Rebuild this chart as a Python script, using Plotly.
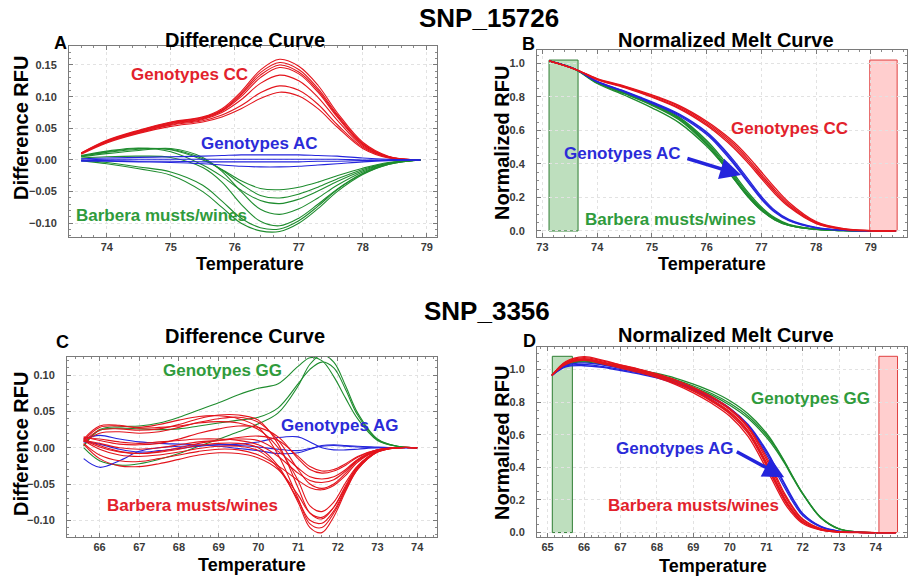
import plotly.graph_objects as go

# ---------------- DATA ----------------
# Panel A: SNP_15726 difference curves
A_temp = [73.6, 74.0, 74.5, 75.0, 75.5, 75.8, 76.1, 76.4, 76.7, 77.0, 77.3, 77.6, 78.0, 78.4, 78.9]
A_cc = [
    [0.011, 0.031, 0.047, 0.060, 0.068, 0.081, 0.108, 0.142, 0.159, 0.148, 0.118, 0.075, 0.028, 0.006, 0.0],
    [0.011, 0.030, 0.046, 0.059, 0.067, 0.079, 0.105, 0.138, 0.154, 0.143, 0.113, 0.072, 0.026, 0.005, 0.0],
    [0.010, 0.030, 0.046, 0.058, 0.066, 0.078, 0.103, 0.134, 0.150, 0.139, 0.110, 0.070, 0.025, 0.005, 0.0],
    [0.010, 0.029, 0.045, 0.057, 0.065, 0.077, 0.100, 0.130, 0.146, 0.136, 0.107, 0.068, 0.024, 0.005, 0.0],
    [0.010, 0.029, 0.044, 0.056, 0.064, 0.075, 0.095, 0.121, 0.134, 0.125, 0.099, 0.063, 0.022, 0.004, 0.0],
    [0.010, 0.028, 0.043, 0.055, 0.062, 0.071, 0.086, 0.106, 0.117, 0.110, 0.088, 0.056, 0.020, 0.004, 0.0],
    [0.009, 0.027, 0.042, 0.053, 0.060, 0.068, 0.081, 0.097, 0.107, 0.101, 0.081, 0.052, 0.018, 0.003, 0.0],
]
A_ac = [
    [0.002, 0.003, 0.004, 0.005, 0.006, 0.007, 0.008, 0.008, 0.008, 0.008, 0.007, 0.006, 0.003, 0.001, 0.0],
    [-0.002, -0.002, -0.003, -0.004, -0.006, -0.008, -0.010, -0.011, -0.011, -0.010, -0.008, -0.006, -0.003, -0.001, 0.0],
    [0.000, 0.001, 0.001, 0.001, 0.001, 0.001, 0.001, 0.001, 0.001, 0.001, 0.001, 0.001, 0.000, 0.0, 0.0],
    [-0.001, -0.001, -0.002, -0.002, -0.003, -0.003, -0.003, -0.003, -0.003, -0.003, -0.002, -0.002, -0.001, 0.0, 0.0],
]
A_barbera = [
    [0.006, 0.013, 0.018, 0.016, 0.000, -0.015, -0.033, -0.045, -0.047, -0.043, -0.035, -0.025, -0.013, -0.004, 0.0],
    [0.006, 0.012, 0.017, 0.017, 0.002, -0.016, -0.038, -0.056, -0.060, -0.054, -0.043, -0.030, -0.015, -0.005, 0.0],
    [0.007, 0.014, 0.019, 0.013, -0.008, -0.026, -0.048, -0.064, -0.069, -0.062, -0.049, -0.034, -0.017, -0.005, 0.0],
    [0.005, 0.010, 0.015, 0.018, 0.004, -0.018, -0.050, -0.078, -0.086, -0.077, -0.060, -0.040, -0.019, -0.006, 0.0],
    [0.003, 0.005, 0.006, 0.004, -0.012, -0.035, -0.070, -0.097, -0.104, -0.092, -0.070, -0.046, -0.021, -0.006, 0.0],
    [0.000, -0.004, -0.011, -0.019, -0.040, -0.065, -0.092, -0.107, -0.109, -0.096, -0.073, -0.047, -0.022, -0.007, 0.0],
    [-0.001, -0.006, -0.014, -0.024, -0.050, -0.075, -0.100, -0.112, -0.113, -0.100, -0.077, -0.050, -0.023, -0.007, 0.0],
]

# Panel B: SNP_15726 normalized melt curves
B_temp = [73.12, 73.6, 74.0, 74.5, 75.0, 75.5, 76.0, 76.25, 76.5, 76.75, 77.0, 77.25, 77.5, 78.0, 78.5, 79.0, 79.45]
B_cc = [
    [1.015, 0.965, 0.910, 0.865, 0.812, 0.748, 0.655, 0.597, 0.530, 0.447, 0.352, 0.257, 0.172, 0.056, 0.014, 0.002, 0.0],
    [1.015, 0.965, 0.907, 0.862, 0.807, 0.742, 0.647, 0.587, 0.517, 0.432, 0.337, 0.243, 0.161, 0.051, 0.012, 0.002, 0.0],
    [1.015, 0.965, 0.905, 0.858, 0.802, 0.735, 0.638, 0.577, 0.505, 0.420, 0.325, 0.232, 0.152, 0.047, 0.011, 0.001, 0.0],
    [1.015, 0.965, 0.903, 0.855, 0.798, 0.729, 0.630, 0.567, 0.494, 0.408, 0.313, 0.221, 0.144, 0.044, 0.010, 0.001, 0.0],
]
B_ac = [
    [1.015, 0.965, 0.893, 0.835, 0.770, 0.697, 0.590, 0.512, 0.418, 0.312, 0.206, 0.122, 0.069, 0.021, 0.005, 0.001, 0.0],
    [1.015, 0.965, 0.891, 0.832, 0.766, 0.692, 0.583, 0.503, 0.407, 0.301, 0.197, 0.116, 0.065, 0.019, 0.005, 0.001, 0.0],
    [1.015, 0.965, 0.889, 0.829, 0.762, 0.686, 0.575, 0.494, 0.398, 0.292, 0.189, 0.110, 0.061, 0.018, 0.004, 0.001, 0.0],
]
B_barbera = [
    [1.015, 0.965, 0.888, 0.826, 0.760, 0.678, 0.540, 0.448, 0.340, 0.233, 0.143, 0.078, 0.040, 0.011, 0.003, 0.0, 0.0],
    [1.015, 0.965, 0.886, 0.823, 0.756, 0.672, 0.530, 0.436, 0.328, 0.222, 0.135, 0.073, 0.037, 0.010, 0.003, 0.0, 0.0],
    [1.015, 0.965, 0.885, 0.821, 0.753, 0.667, 0.522, 0.427, 0.318, 0.213, 0.128, 0.069, 0.035, 0.009, 0.002, 0.0, 0.0],
    [1.015, 0.965, 0.884, 0.819, 0.750, 0.662, 0.514, 0.418, 0.309, 0.205, 0.122, 0.065, 0.033, 0.009, 0.002, 0.0, 0.0],
    [1.015, 0.963, 0.880, 0.810, 0.735, 0.645, 0.505, 0.415, 0.310, 0.207, 0.124, 0.066, 0.033, 0.009, 0.002, 0.0, 0.0],
]

# Panel C: SNP_3356 difference curves
C_temp = [65.6, 66.0, 66.5, 67.0, 67.5, 68.0, 68.5, 69.0, 69.5, 70.0, 70.5, 71.0, 71.3, 71.6, 71.9, 72.2, 72.5, 73.0, 73.5, 74.0]
C_gg = [
    [0.002, 0.025, 0.029, 0.030, 0.034, 0.042, 0.052, 0.062, 0.073, 0.082, 0.088, 0.112, 0.124, 0.120, 0.098, 0.068, 0.040, 0.010, 0.002, 0.0],
    [0.000, -0.018, -0.024, -0.022, -0.016, -0.008, 0.002, 0.012, 0.022, 0.033, 0.048, 0.085, 0.115, 0.128, 0.118, 0.085, 0.048, 0.012, 0.002, 0.0],
    [0.003, 0.024, 0.027, 0.026, 0.025, 0.026, 0.030, 0.034, 0.038, 0.042, 0.055, 0.088, 0.108, 0.118, 0.110, 0.080, 0.045, 0.011, 0.002, 0.0],
]
C_ag = [
    [-0.015, -0.027, -0.018, -0.005, 0.000, 0.002, 0.003, 0.004, 0.005, 0.008, 0.014, 0.015, 0.008, 0.000, -0.003, -0.003, -0.002, 0.000, 0.0, 0.0],
    [0.012, 0.017, 0.012, 0.008, 0.006, 0.005, 0.004, 0.002, -0.001, -0.004, -0.008, -0.007, -0.002, 0.003, 0.004, 0.003, 0.002, 0.001, 0.0, 0.0],
    [0.008, 0.005, -0.002, -0.006, -0.004, -0.001, 0.002, 0.004, 0.003, 0.001, -0.002, -0.004, -0.001, 0.002, 0.003, 0.002, 0.001, 0.000, 0.0, 0.0],
]
C_barbera = [
    [0.010, 0.028, 0.030, 0.028, 0.032, 0.038, 0.043, 0.044, 0.040, 0.028, -0.010, -0.070, -0.105, -0.110, -0.090, -0.058, -0.030, -0.006, 0.0, 0.0],
    [0.012, 0.030, 0.031, 0.027, 0.028, 0.030, 0.034, 0.036, 0.034, 0.025, 0.000, -0.045, -0.080, -0.088, -0.075, -0.048, -0.025, -0.005, 0.0, 0.0],
    [0.008, 0.020, 0.022, 0.020, 0.022, 0.028, 0.035, 0.040, 0.042, 0.035, 0.010, -0.030, -0.050, -0.056, -0.050, -0.035, -0.018, -0.004, 0.0, 0.0],
    [0.015, 0.010, 0.005, 0.004, 0.006, 0.012, 0.020, 0.026, 0.030, 0.028, 0.015, -0.015, -0.030, -0.035, -0.032, -0.024, -0.013, -0.003, 0.0, 0.0],
    [0.012, 0.003, -0.005, -0.008, -0.006, -0.002, 0.003, 0.006, 0.006, 0.000, -0.025, -0.075, -0.110, -0.117, -0.095, -0.060, -0.030, -0.006, 0.0, 0.0],
    [0.010, -0.002, -0.010, -0.012, -0.010, -0.006, -0.001, 0.002, 0.002, -0.004, -0.028, -0.072, -0.100, -0.104, -0.087, -0.056, -0.028, -0.006, 0.0, 0.0],
    [0.005, -0.015, -0.025, -0.026, -0.022, -0.016, -0.010, -0.007, -0.008, -0.014, -0.030, -0.065, -0.090, -0.096, -0.082, -0.054, -0.027, -0.005, 0.0, 0.0],
    [0.006, -0.010, -0.018, -0.019, -0.015, -0.010, -0.005, -0.002, -0.003, -0.010, -0.025, -0.045, -0.055, -0.058, -0.052, -0.038, -0.020, -0.004, 0.0, 0.0],
    [0.014, 0.012, 0.008, 0.006, 0.008, 0.010, 0.012, 0.012, 0.010, 0.004, -0.012, -0.035, -0.045, -0.048, -0.044, -0.032, -0.017, -0.004, 0.0, 0.0],
    [0.010, 0.006, 0.000, -0.002, 0.000, 0.004, 0.008, 0.010, 0.012, 0.010, -0.005, -0.028, -0.040, -0.043, -0.040, -0.030, -0.016, -0.003, 0.0, 0.0],
    [0.008, 0.024, 0.026, 0.024, 0.026, 0.032, 0.040, 0.045, 0.045, 0.038, 0.005, -0.055, -0.090, -0.098, -0.082, -0.052, -0.026, -0.005, 0.0, 0.0],
    [0.011, 0.001, -0.006, -0.008, -0.005, 0.000, 0.006, 0.010, 0.014, 0.016, 0.010, -0.012, -0.026, -0.032, -0.030, -0.022, -0.012, -0.003, 0.0, 0.0],
]

# Panel D: SNP_3356 normalized melt curves
D_temp = [65.12, 65.5, 66.0, 66.5, 67.0, 67.5, 68.0, 68.5, 69.0, 69.5, 70.0, 70.5, 71.0, 71.25, 71.5, 71.75, 72.0, 72.5, 73.0, 73.5, 74.0, 74.55]
D_barbera = [
    [0.963, 1.045, 1.072, 1.052, 1.026, 1.000, 0.970, 0.932, 0.884, 0.826, 0.752, 0.640, 0.450, 0.340, 0.228, 0.142, 0.078, 0.022, 0.005, 0.001, 0.0, 0.0],
    [0.963, 1.040, 1.066, 1.046, 1.020, 0.994, 0.963, 0.924, 0.875, 0.815, 0.740, 0.625, 0.432, 0.322, 0.212, 0.130, 0.070, 0.019, 0.004, 0.001, 0.0, 0.0],
    [0.963, 1.035, 1.060, 1.040, 1.014, 0.988, 0.956, 0.916, 0.866, 0.804, 0.727, 0.608, 0.412, 0.302, 0.196, 0.118, 0.063, 0.017, 0.004, 0.001, 0.0, 0.0],
    [0.963, 1.030, 1.055, 1.034, 1.008, 0.981, 0.949, 0.908, 0.856, 0.792, 0.713, 0.590, 0.392, 0.284, 0.181, 0.107, 0.056, 0.015, 0.003, 0.0, 0.0, 0.0],
    [0.963, 1.048, 1.078, 1.056, 1.028, 1.002, 0.972, 0.936, 0.890, 0.833, 0.760, 0.650, 0.465, 0.355, 0.240, 0.150, 0.083, 0.024, 0.005, 0.001, 0.0, 0.0],
    [0.963, 1.038, 1.062, 1.042, 1.016, 0.990, 0.958, 0.919, 0.870, 0.810, 0.734, 0.617, 0.422, 0.312, 0.204, 0.124, 0.067, 0.018, 0.004, 0.001, 0.0, 0.0],
]
D_ag = [
    [0.963, 1.015, 1.022, 1.012, 0.993, 0.973, 0.948, 0.914, 0.873, 0.823, 0.758, 0.655, 0.495, 0.395, 0.292, 0.192, 0.112, 0.036, 0.008, 0.001, 0.0, 0.0],
    [0.963, 1.020, 1.030, 1.018, 0.998, 0.977, 0.952, 0.918, 0.877, 0.828, 0.762, 0.662, 0.505, 0.405, 0.302, 0.201, 0.118, 0.038, 0.009, 0.001, 0.0, 0.0],
    [0.963, 1.025, 1.040, 1.028, 1.006, 0.984, 0.958, 0.924, 0.882, 0.830, 0.760, 0.652, 0.480, 0.378, 0.276, 0.180, 0.104, 0.033, 0.007, 0.001, 0.0, 0.0],
]
D_gg = [
    [0.963, 1.030, 1.050, 1.035, 1.016, 0.992, 0.967, 0.937, 0.898, 0.852, 0.792, 0.713, 0.598, 0.523, 0.432, 0.332, 0.240, 0.092, 0.023, 0.004, 0.0, 0.0],
    [0.963, 1.028, 1.046, 1.030, 1.010, 0.986, 0.960, 0.929, 0.889, 0.842, 0.780, 0.700, 0.585, 0.512, 0.425, 0.327, 0.236, 0.090, 0.022, 0.004, 0.0, 0.0],
    [0.963, 1.032, 1.055, 1.040, 1.020, 0.998, 0.975, 0.947, 0.910, 0.866, 0.808, 0.728, 0.610, 0.530, 0.436, 0.334, 0.238, 0.090, 0.022, 0.004, 0.0, 0.0],
]

# Normalization regions (start, end) for the melt plots
B_regions = [(73.12, 73.65), (78.98, 79.48)]
D_regions = [(65.13, 65.68), (74.09, 74.60)]

# ---------------- STYLE ----------------
W, H = 908, 578
RED = '#e3141c'
BLUE = '#2424dc'
GREEN = '#1e8c2e'
RED_T = '#e2222c'
BLUE_T = '#2b2bd8'
GREEN_T = '#2f9b3c'
FONT = 'Liberation Sans, Arial, Helvetica, sans-serif'

fig = go.Figure()


def add_curves(xs, curves, color, ax, width=1.1):
    for c in curves:
        fig.add_trace(go.Scatter(
            x=xs, y=c, mode='lines',
            line=dict(color=color, width=width, shape='spline', smoothing=1.0),
            xaxis='x' + ax, yaxis='y' + ax, showlegend=False, hoverinfo='skip'))


add_curves(A_temp, A_cc, RED, '')
add_curves(A_temp, A_barbera, GREEN, '')
add_curves(A_temp, A_ac, BLUE, '')

add_curves(B_temp, B_barbera, GREEN, '2', 1.3)
add_curves(B_temp, B_ac, BLUE, '2', 1.3)
add_curves(B_temp, B_cc, RED, '2', 1.3)

add_curves(C_temp, C_gg, GREEN, '3')
add_curves(C_temp, C_ag, BLUE, '3')
add_curves(C_temp, C_barbera, RED, '3')

add_curves(D_temp, D_gg, GREEN, '4', 1.3)
add_curves(D_temp, D_ag, BLUE, '4', 1.3)
add_curves(D_temp, D_barbera, RED, '4', 1.3)


def dom_x(l, r):
    return [l / W, r / W]


def dom_y(t, b):
    return [1 - b / H, 1 - t / H]


def axis(domain, rng, dtick, mdtick, anchor, fmt=None, standoff=0):
    d = dict(domain=domain, range=rng, dtick=dtick, tick0=0, anchor=anchor,
             showline=True, linecolor='#7a7a7a', linewidth=1, mirror='ticks',
             ticks='inside', ticklen=4, tickcolor='#7a7a7a', tickwidth=1,
             showgrid=True, gridcolor='#e2e2e2', griddash='dot', gridwidth=1,
             zeroline=False, ticklabelstandoff=standoff,
             tickfont=dict(family=FONT, size=11, color='#3a3a3a', weight='bold'),
             minor=dict(dtick=mdtick, ticks='inside', ticklen=2, tickcolor='#8a8a8a', showgrid=False))
    if fmt:
        d['tickformat'] = fmt
    return d


layout = dict(
    width=W, height=H, margin=dict(l=0, r=0, t=0, b=0),
    paper_bgcolor='white', plot_bgcolor='white', showlegend=False,
    font=dict(family=FONT),
    xaxis=axis(dom_x(69, 437), [73.41, 79.16], 1, 0.2, 'y'),
    yaxis=axis(dom_y(46, 237), [-0.1217, 0.18], 0.05, 0.01, 'x', '.2f', 9),
    xaxis2=axis(dom_x(537, 907), [72.9, 79.66], 1, 0.2, 'y2'),
    yaxis2=axis(dom_y(50, 237), [-0.036, 1.08], 0.2, 0.05, 'x2', '.1f', 9),
    xaxis3=axis(dom_x(67, 437), [65.18, 74.5], 1, 0.2, 'y3'),
    yaxis3=axis(dom_y(357, 537), [-0.123, 0.125], 0.05, 0.01, 'x3', '.2f', 9),
    xaxis4=axis(dom_x(537, 907), [64.71, 74.86], 1, 0.2, 'y4'),
    yaxis4=axis(dom_y(347, 537), [-0.027, 1.137], 0.2, 0.05, 'x4', '.1f', 9),
)
fig.update_layout(**layout)

# normalization bands
band_styles = [('rgba(40,150,40,0.30)', '#2e7d32'), ('rgba(255,80,80,0.28)', '#e04040')]
for (x0, x1), (fc, lc) in zip(B_regions, band_styles):
    fig.add_shape(type='rect', xref='x2', yref='y2', x0=x0, x1=x1, y0=0.0, y1=1.02,
                  fillcolor=fc, line=dict(color=lc, width=1), layer='below')
for (x0, x1), (fc, lc) in zip(D_regions, band_styles):
    fig.add_shape(type='rect', xref='x4', yref='y4', x0=x0, x1=x1, y0=0.0, y1=1.08,
                  fillcolor=fc, line=dict(color=lc, width=1), layer='below')

ann = []


def ptxt(px, py, text, size, color='black', angle=0):
    ann.append(dict(xref='paper', yref='paper', x=px / W, y=1 - py / H, text=text,
                    showarrow=False, xanchor='center', yanchor='middle', textangle=angle,
                    font=dict(family=FONT, size=size, color=color)))


def dtxt(ax, x, y, text, color, size=17):
    ann.append(dict(xref='x' + ax, yref='y' + ax, x=x, y=y, text='<b>' + text + '</b>',
                    showarrow=False, xanchor='center', yanchor='middle',
                    font=dict(family=FONT, size=size, color=color)))


# main titles
ptxt(489, 18, '<b>SNP_15726</b>', 26)
ptxt(487, 311, '<b>SNP_3356</b>', 26)
# panel titles
ptxt(245, 40, '<b>Difference Curve</b>', 20)
ptxt(726, 40, '<b>Normalized Melt Curve</b>', 20)
ptxt(245, 336, '<b>Difference Curve</b>', 20)
ptxt(726, 335, '<b>Normalized Melt Curve</b>', 20)
# panel letters
ptxt(60, 43, '<b>A</b>', 18)
ptxt(528, 44, '<b>B</b>', 18)
ptxt(62, 342, '<b>C</b>', 18)
ptxt(529, 341, '<b>D</b>', 18)
# axis titles
ptxt(250, 264, '<b>Temperature</b>', 18)
ptxt(712, 264, '<b>Temperature</b>', 18)
ptxt(252, 565, '<b>Temperature</b>', 18)
ptxt(713, 566, '<b>Temperature</b>', 18)
ptxt(21, 128, '<b>Difference RFU</b>', 20, angle=-90)
ptxt(502, 143, '<b>Normalized RFU</b>', 20, angle=-90)
ptxt(21, 444, '<b>Difference RFU</b>', 20, angle=-90)
ptxt(502, 443, '<b>Normalized RFU</b>', 20, angle=-90)

# group labels
dtxt('', 75.3, 0.135, 'Genotypes CC', RED_T)
dtxt('', 76.39, 0.0255, 'Genotypes AC', BLUE_T)
dtxt('', 74.86, -0.088, 'Barbera musts/wines', GREEN_T)

dtxt('2', 77.51, 0.614, 'Genotypes CC', RED_T)
dtxt('2', 74.46, 0.465, 'Genotypes AC', BLUE_T)
dtxt('2', 75.33, 0.066, 'Barbera musts/wines', GREEN_T)

dtxt('3', 69.09, 0.107, 'Genotypes GG', GREEN_T)
dtxt('3', 72.04, 0.031, 'Genotypes AG', BLUE_T)
dtxt('3', 68.33, -0.079, 'Barbera musts/wines', RED_T)

dtxt('4', 72.2, 0.822, 'Genotypes GG', GREEN_T)
dtxt('4', 68.47, 0.516, 'Genotypes AG', BLUE_T)
dtxt('4', 69.01, 0.167, 'Barbera musts/wines', RED_T)

# arrows
ann.append(dict(xref='x2', yref='y2', axref='x2', ayref='y2', x=76.63, y=0.334, ax=75.62, ay=0.435,
                text='', showarrow=True, arrowhead=2, arrowsize=1.2, arrowwidth=3.5, arrowcolor=BLUE))
ann.append(dict(xref='x4', yref='y4', axref='x4', ayref='y4', x=71.49, y=0.339, ax=70.15, ay=0.50,
                text='', showarrow=True, arrowhead=2, arrowsize=1.2, arrowwidth=3.5, arrowcolor=BLUE))

fig.update_layout(annotations=ann)
fig.write_html('out.html')
